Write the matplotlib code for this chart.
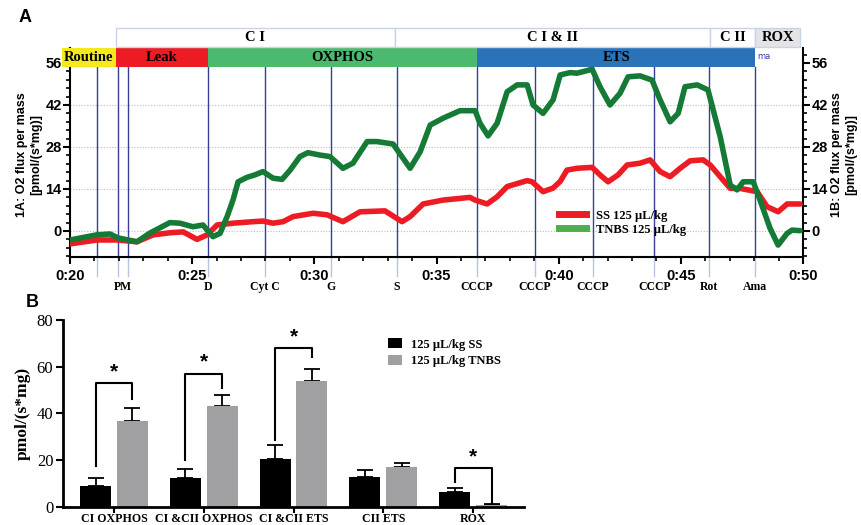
import matplotlib
matplotlib.use("Agg")
import matplotlib.pyplot as plt
from matplotlib.patches import Rectangle
from matplotlib.lines import Line2D
from matplotlib.ticker import MultipleLocator, FuncFormatter

SERIF = "Liberation Serif"
SANS = "Liberation Sans"

# ---- Panel A: O2 flux traces (time in minutes) ----
tnbs_t = [20.0, 21.09, 21.64, 21.96, 22.74, 23.27, 24.09, 24.50, 25.03, 25.44,
          25.85, 26.14, 26.43, 26.67, 26.88, 27.25, 27.57, 27.90, 28.31, 28.68,
          29.01, 29.41, 29.74, 30.23, 30.64, 31.17, 31.58, 32.16, 32.57, 33.22,
          33.92, 34.33, 34.74, 35.27, 35.96, 36.58, 36.78, 37.11, 37.48, 37.89,
          38.30, 38.71, 38.95, 39.36, 39.77, 40.06, 40.47, 40.75, 41.37, 41.69,
          42.10, 42.51, 42.84, 43.33, 43.82, 44.15, 44.56, 44.89, 45.17, 45.67,
          46.11, 46.61, 47.02, 47.30, 47.55, 47.96, 48.24, 48.65, 48.98, 49.35,
          49.55, 49.88]
tnbs_v = [-3.0, -1.3, -1.0, -2.3, -3.6, -0.7, 2.8, 2.6, 1.4, 2.0,
          -1.9, -0.8, 4.8, 10.3, 16.4, 17.9, 18.7, 19.8, 17.6, 17.2,
          20.3, 24.8, 26.1, 25.3, 24.8, 20.9, 22.6, 29.8, 29.8, 29.0,
          20.9, 26.4, 35.3, 37.6, 40.1, 40.1, 35.9, 31.7, 35.9, 46.4,
          48.7, 48.7, 42.0, 39.2, 43.7, 52.0, 52.8, 52.6, 53.9, 48.1,
          42.0, 45.9, 51.4, 51.7, 50.3, 43.7, 36.4, 39.2, 48.1, 48.7,
          47.0, 31.4, 15.3, 13.7, 16.4, 16.4, 10.3, 0.9, -4.7, -0.8,
          0.3, 0.1]

ss_t = [20.0, 21.11, 21.92, 22.74, 23.40, 24.09, 24.63, 25.20, 25.61, 26.02,
        26.67, 27.49, 27.90, 28.31, 28.72, 29.13, 29.95, 30.52, 31.17, 31.87,
        32.89, 33.59, 33.92, 34.45, 35.27, 36.37, 36.58, 37.07, 37.48, 37.89,
        38.71, 38.91, 39.36, 39.77, 40.06, 40.34, 40.75, 41.37, 41.69, 42.02,
        42.43, 42.80, 43.33, 43.74, 44.15, 44.56, 44.97, 45.38, 45.91, 46.20,
        46.61, 47.02, 47.42, 48.12, 48.53, 48.98, 49.35, 49.88]
ss_v = [-4.3, -3.0, -3.0, -3.6, -1.3, -0.6, -0.3, -2.8, -1.3, 2.0,
        2.6, 3.1, 3.3, 2.6, 3.1, 4.8, 5.9, 5.4, 3.1, 6.4,
        6.7, 3.1, 4.8, 9.0, 10.3, 11.2, 10.3, 9.0, 11.4, 14.8,
        16.8, 16.4, 13.1, 14.3, 16.5, 20.3, 20.9, 21.2, 18.7, 16.4,
        18.7, 22.0, 22.6, 23.7, 19.8, 18.1, 20.9, 23.4, 23.7, 22.0,
        18.1, 14.2, 14.2, 13.1, 8.1, 6.4, 9.0, 9.0]

event_t = [21.11, 21.96, 22.37, 25.65, 27.98, 30.68, 33.38,
           36.66, 39.03, 41.41, 43.91, 46.16, 48.04]
event_names = ["PM", "D", "Cyt C", "G", "S", "CCCP", "CCCP", "CCCP", "CCCP", "Rot", "Ama"]
event_name_t = [22.17, 25.65, 27.98, 30.68, 33.38, 36.66, 39.03, 41.41, 43.91, 46.16, 48.04]

state_names = ["Routine", "Leak", "OXPHOS", "ETS"]
state_edges = [19.67, 21.88, 25.65, 36.66, 48.04]
complex_names = ["C I", "C I & II", "C II", "ROX"]
complex_edges = [21.88, 33.30, 46.20, 48.04, 49.88]

# ---- Panel B: bar summary ----
categories = ["CI OXPHOS", "CI &CII OXPHOS", "CI &CII ETS", "CII ETS", "ROX"]
ss_mean = [9.0, 12.3, 20.5, 12.7, 6.3]
ss_err = [3.3, 4.0, 6.0, 3.3, 1.9]
tnbs_mean = [37.0, 43.2, 54.0, 17.0, 0.8]
tnbs_err = [5.3, 4.8, 5.0, 1.7, 0.3]
sig_idx = [0, 1, 2, 4]
sig_left = [17.5, 20.0, 28.5, 10.7]
sig_top = [53.0, 57.0, 68.0, 16.7]
sig_right = [46.0, 51.0, 64.0, 1.5]

RED = "#ed1c24"
DKGREEN = "#157a35"

fig = plt.figure(figsize=(8.62, 5.25), dpi=100)

# ===================== Panel A =====================
ax = fig.add_axes([0.0812, 0.5105, 0.8504, 0.3981])
YMIN, YMAX = -8.67, 61.0
ax.set_xlim(20, 50)
ax.set_ylim(YMIN, YMAX)

for y in [0, 14, 28, 42]:
    ax.axhline(y, color="#bdbdbd", lw=0.8, ls=(0, (1, 1.5)), zorder=0)

for t in event_t:
    ax.plot([t, t], [YMIN, 54.67], color="#3a3c9c", lw=1.0, zorder=1)
    ax.plot([t, t], [YMIN, YMIN - 6.5], color="#b8c4e6", lw=1.0, clip_on=False, zorder=1)

ax.plot(ss_t, ss_v, color=RED, lw=4, solid_capstyle="round", solid_joinstyle="round", zorder=3)
ax.plot(tnbs_t, tnbs_v, color=DKGREEN, lw=4, solid_capstyle="round", solid_joinstyle="round", zorder=4)

# state bands (row just above plotting area)
state_colors = ["#f3ea1d", "#ed1c24", "#4cba6e", "#2a73b9"]
for i, name in enumerate(state_names):
    x0, x1 = state_edges[i], state_edges[i + 1]
    ax.add_patch(Rectangle((x0, 54.67), x1 - x0, YMAX - 54.67, facecolor=state_colors[i],
                           edgecolor="none", clip_on=False, zorder=5))
    ax.text((x0 + x1) / 2, 57.8, name, ha="center", va="center", fontsize=10.5,
            fontweight="bold", family=SERIF, color="black", zorder=6, clip_on=False)
ax.text(48.12, 58.0, "ma", fontsize=6, color="#3b3bb0", ha="left", va="center", zorder=6)

# complex boxes (row above the axes)
for i, name in enumerate(complex_names):
    x0, x1 = complex_edges[i], complex_edges[i + 1]
    fc = "#e4e4e6" if name == "ROX" else "white"
    ax.add_patch(Rectangle((x0, 61.2), x1 - x0, 6.5, facecolor=fc, edgecolor="#c8d3e6",
                           lw=1.0, clip_on=False, zorder=5))
    ax.text((x0 + x1) / 2, 64.5, name, ha="center", va="center", fontsize=10.5,
            fontweight="bold", family=SERIF, zorder=6, clip_on=False)

for t, name in zip(event_name_t, event_names):
    ax.text(t, -18.7, name, ha="center", va="center", fontsize=8.5, fontweight="bold",
            family=SERIF, clip_on=False)

ax.spines["top"].set_visible(False)
for s in ["left", "right", "bottom"]:
    ax.spines[s].set_linewidth(1.5)
ax.set_yticks([0, 14, 28, 42, 56])
ax.yaxis.set_minor_locator(MultipleLocator(2.8))
ax.set_xticks([20, 25, 30, 35, 40, 45, 50])
ax.xaxis.set_minor_locator(MultipleLocator(1))
ax.xaxis.set_major_formatter(FuncFormatter(lambda v, p: f"0:{int(v):02d}"))
ax.tick_params(axis="both", which="major", length=5, width=1.5, labelsize=10.5)
ax.tick_params(axis="both", which="minor", length=3, width=1.2)
ax.tick_params(axis="y", pad=1)
for lab in ax.get_xticklabels() + ax.get_yticklabels():
    lab.set_fontweight("bold")
    lab.set_family(SANS)

ax2 = ax.twinx()
ax2.set_ylim(YMIN, YMAX)
ax2.set_yticks([0, 14, 28, 42, 56])
ax2.yaxis.set_minor_locator(MultipleLocator(2.8))
ax2.tick_params(axis="y", which="major", length=5, width=1.5, labelsize=10.5, pad=1)
ax2.tick_params(axis="y", which="minor", length=3, width=1.2)
for s in ax2.spines.values():
    s.set_visible(False)
for lab in ax2.get_yticklabels():
    lab.set_fontweight("bold")
    lab.set_family(SANS)

fig.text(0.034, 0.705, "1A: O2 flux per mass\n[pmol/(s*mg)]", rotation=90, ha="center",
         va="center", fontsize=9, fontweight="bold", family=SANS, linespacing=1.3)
fig.text(0.979, 0.705, "1B: O2 flux per mass\n[pmol/(s*mg)]", rotation=90, ha="center",
         va="center", fontsize=9, fontweight="bold", family=SANS, linespacing=1.3)

handles = [Line2D([], [], color=RED, lw=5), Line2D([], [], color="#4caf50", lw=5)]
leg = ax.legend(handles, ["SS 125 µL/kg", "TNBS 125 µL/kg"], loc="upper left",
                bbox_to_anchor=(0.66, 0.25), frameon=False, handlelength=2.2,
                borderaxespad=0, labelspacing=0.15, handletextpad=0.8,
                prop={"family": SERIF, "weight": "bold", "size": 9})

fig.text(0.022, 0.958, "A", fontsize=13, fontweight="bold", family=SANS)

# ===================== Panel B =====================
bx = fig.add_axes([0.0731, 0.0343, 0.5348, 0.3562])
x = list(range(len(categories)))
w = 0.345
off = 0.205
xs = [i - off for i in x]
xt = [i + off for i in x]
bx.bar(xs, ss_mean, w, color="black", zorder=2)
bx.bar(xt, tnbs_mean, w, color="#a0a0a3", zorder=2)
bx.errorbar(xs, ss_mean, yerr=[[0] * len(x), ss_err], fmt="none", ecolor="black",
            elinewidth=1.3, capsize=6, capthick=1.3, zorder=1)
bx.errorbar(xt, tnbs_mean, yerr=[[0] * len(x), tnbs_err], fmt="none", ecolor="black",
            elinewidth=1.3, capsize=6, capthick=1.3, zorder=1)

for i, yl, yt, yr in zip(sig_idx, sig_left, sig_top, sig_right):
    bx.plot([i - off, i - off, i + off, i + off], [yl, yt, yt, yr], color="black", lw=1.5,
            clip_on=False, zorder=3)
    bx.text(i, yt + 0.8, "*", ha="center", va="bottom", fontsize=15, fontweight="bold",
            family=SANS, clip_on=False)

bx.set_xlim(-0.567, 4.567)
bx.set_ylim(0, 80)
bx.set_yticks([0, 20, 40, 60, 80])
bx.set_xticks(x)
bx.set_xticklabels(categories)
bx.spines["top"].set_visible(False)
bx.spines["right"].set_visible(False)
bx.spines["left"].set_linewidth(2)
bx.spines["bottom"].set_linewidth(2)
bx.tick_params(axis="y", length=5, width=1.5, labelsize=12, pad=2)
bx.tick_params(axis="x", length=4, width=1.5, pad=0)
for lab in bx.get_yticklabels():
    lab.set_family(SERIF)
for lab in bx.get_xticklabels():
    lab.set_family(SERIF)
    lab.set_fontweight("bold")
    lab.set_fontsize(8.6)
bx.set_ylabel("pmol/(s*mg)", family=SERIF, fontweight="bold", fontsize=12.5, labelpad=4)

bh = [Rectangle((0, 0), 1, 1, facecolor="black"), Rectangle((0, 0), 1, 1, facecolor="#a0a0a3")]
bx.legend(bh, ["125 µL/kg SS", "125 µL/kg TNBS"], loc="upper left", bbox_to_anchor=(0.695, 0.93),
          frameon=False, handlelength=1.1, handleheight=0.9, handletextpad=0.7,
          labelspacing=0.35, borderaxespad=0,
          prop={"family": SERIF, "weight": "bold", "size": 9})

fig.text(0.030, 0.415, "B", fontsize=13, fontweight="bold", family=SANS)

fig.savefig("out.png", dpi=100)
